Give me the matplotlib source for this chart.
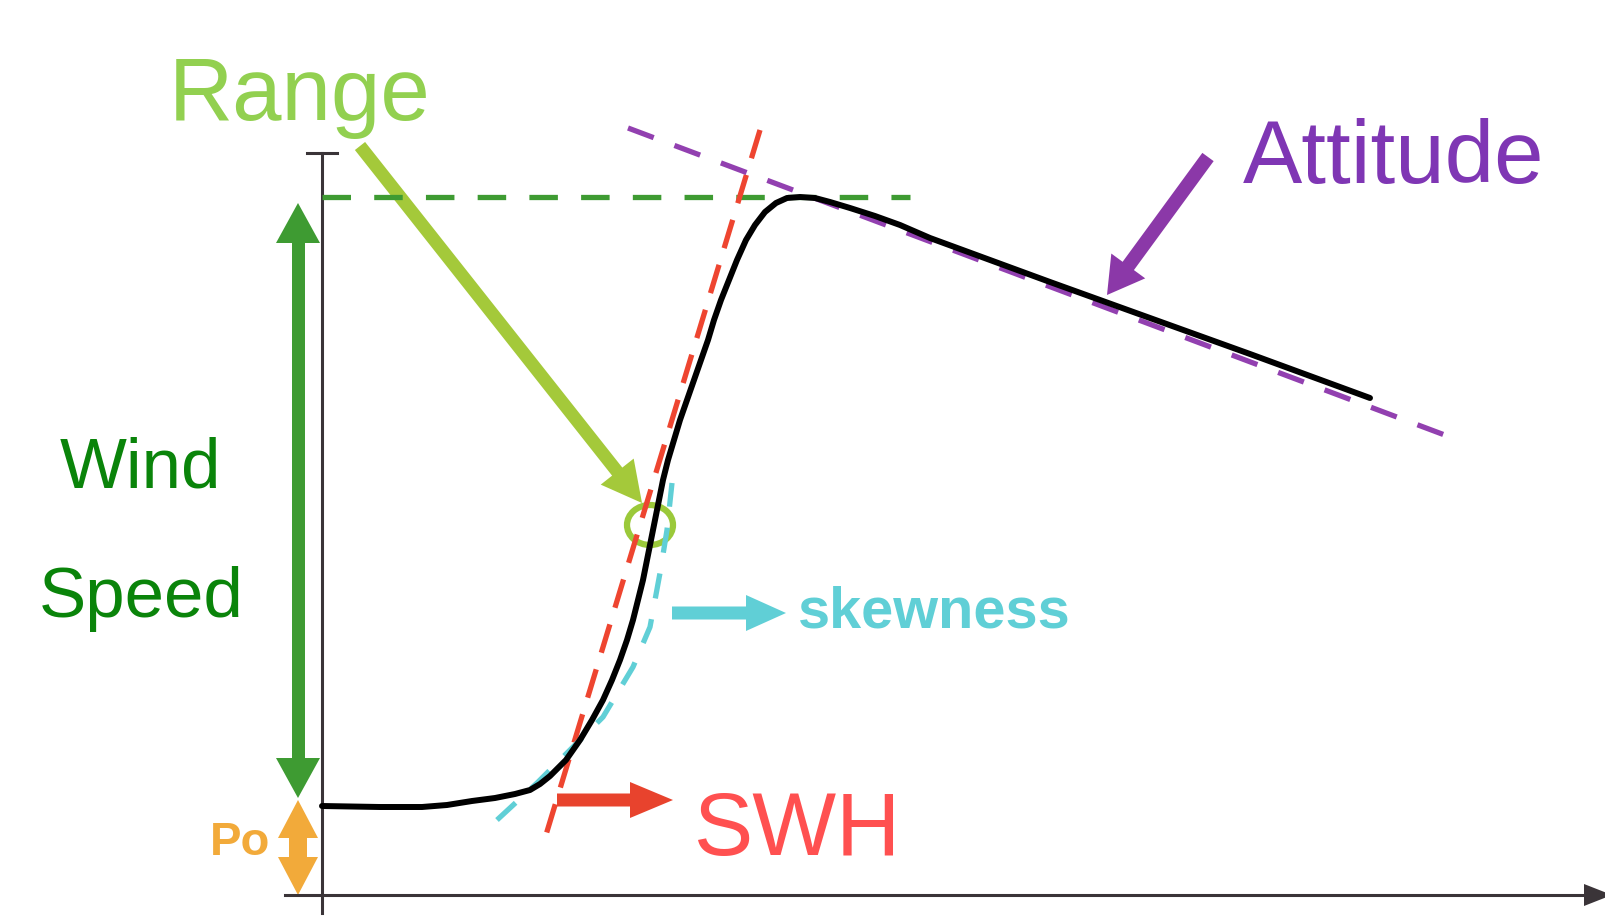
import matplotlib.pyplot as plt
from matplotlib.patches import Ellipse, FancyArrow

plt.rcParams["font.family"] = ["Liberation Sans", "DejaVu Sans"]

# Waveform (range gate vs returned power),
# origin at the corner of the two axes
gate = [0, 58, 100, 125, 150, 173, 193, 208, 218, 228, 244, 258, 270, 281,
        290, 298, 305, 311, 316, 321, 325, 329, 333, 337, 341, 346, 352,
        358, 365, 372, 379, 386, 392, 399, 407, 415, 424, 433, 443, 454,
        465, 478, 493, 508, 528, 553, 578, 608, 728, 828, 928, 1048]
power = [89, 88, 88, 90, 94, 97, 101, 105, 111, 119, 135, 155, 175, 195,
         215, 235, 255, 275, 295, 315, 335, 355, 375, 395, 415, 435, 455,
         475, 495, 515, 535, 555, 575, 595, 615, 635, 655, 670, 683, 692,
         697, 698, 697, 693, 687, 679, 670, 657, 613, 577, 541, 497]

# skewed leading edge model
skew_gate = [175, 215, 248, 281, 311, 328, 338, 345, 350]
skew_power = [75, 112, 145, 178, 228, 268, 322, 365, 412]

# reference lines: [start, end]
peak_gate = [0, 588]
peak_power = [698, 698]
swh_gate = [438, 220]
swh_power = [765, 47]
att_gate = [306, 1128]
att_power = [767, 458]

# retracked epoch (the circled point)
epoch = (328, 370)

# labels
labels = ["Range", "Attitude", "Wind", "Speed", "SWH", "skewness", "Po"]

GREEN = "#3e9b32"
LIGHT_GREEN = "#a4c93a"
RED = "#ee4530"
CYAN = "#60cfd6"
PURPLE = "#9240b0"
ORANGE = "#f2aa3a"


def arrow(ax, x0, y0, x1, y1, color, width, head_width, head_length):
    ax.add_patch(FancyArrow(x0, y0, x1 - x0, y1 - y0, width=width,
                            head_width=head_width, head_length=head_length,
                            length_includes_head=True, color=color, lw=0))


def double_arrow(ax, x, y0, y1, color, width, head_width, head_length):
    # one shaft, two heads
    ax.plot([x, x], [y0 + head_length - 2, y1 - head_length + 2],
            color=color, lw=width * 0.72, solid_capstyle="butt")
    arrow(ax, x, y0 + head_length, x, y0, color, 0, head_width, head_length)
    arrow(ax, x, y1 - head_length, x, y1, color, 0, head_width, head_length)


def main():
    fig = plt.figure(figsize=(16.05, 9.17), dpi=100)
    ax = fig.add_axes([0, 0, 1, 1])
    ax.set_xlim(-322, 1283)
    ax.set_ylim(-22, 895)
    ax.axis("off")

    # axes of the diagram
    axis_color = "#3a3438"
    ax.plot([0, 0], [-18, 742], color=axis_color, lw=2.2)
    ax.plot([-15, 15], [742, 742], color=axis_color, lw=2.2)
    ax.plot([-37, 1283], [0, 0], color=axis_color, lw=2.2)
    ax.add_patch(FancyArrow(1262, 0, 28, 0, width=0, head_width=22,
                            head_length=28, length_includes_head=True,
                            color=axis_color, lw=0))

    # dashed guide lines
    ax.plot(peak_gate, peak_power, color=GREEN, lw=3.8,
            linestyle=(0, (5.4, 4.4)))
    ax.plot(swh_gate, swh_power, color=RED, lw=3.8,
            linestyle=(0, (5.6, 3.3)))
    ax.plot(att_gate, att_power, color=PURPLE, lw=3.8,
            linestyle=(0, (5.2, 4.2)))
    ax.plot(skew_gate, skew_power, color=CYAN, lw=3.8,
            linestyle=(0, (4.8, 4.0)))

    # the waveform itself
    ax.plot(gate, power, color="black", lw=4.3, solid_capstyle="round",
            solid_joinstyle="round")

    # circled epoch
    ax.add_patch(Ellipse(epoch, 46, 40, fill=False, edgecolor="#9bc93a",
                         lw=4.5))

    # arrows
    arrow(ax, 38, 749, 320, 392, LIGHT_GREEN, 13, 42, 40)
    arrow(ax, 886, 738, 785, 600, "#8b38a8", 14, 42, 36)
    arrow(ax, 350, 282, 464, 282, CYAN, 13, 36, 40)
    arrow(ax, 235, 95, 351, 95, "#e8432d", 13, 36, 43)

    # wind speed and noise floor double arrows
    double_arrow(ax, -24, 97, 692, GREEN, 13, 44, 40)
    double_arrow(ax, -24, 0, 95, ORANGE, 18, 40, 38)

    # text
    ax.text(-22, 775, labels[0], color="#92d050", fontsize=64,
            ha="center", va="baseline")
    ax.text(1072, 712, labels[1], color="#7f36b4", fontsize=64,
            ha="center", va="baseline")
    ax.text(-182, 407, labels[2], color="#0a840a", fontsize=51,
            ha="center", va="baseline")
    ax.text(-181, 278, labels[3], color="#0a840a", fontsize=51,
            ha="center", va="baseline")
    ax.text(372, 40, labels[4], color="#ff5050", fontsize=64,
            ha="left", va="baseline")
    ax.text(476, 268, labels[5], color=CYAN, fontsize=41.5,
            fontweight="bold", ha="left", va="baseline")
    ax.text(-82, 52, labels[6], color=ORANGE, fontsize=34,
            fontweight="bold", ha="center", va="center")

    fig.savefig("out.png", dpi=100, facecolor="white")


if __name__ == "__main__":
    main()
